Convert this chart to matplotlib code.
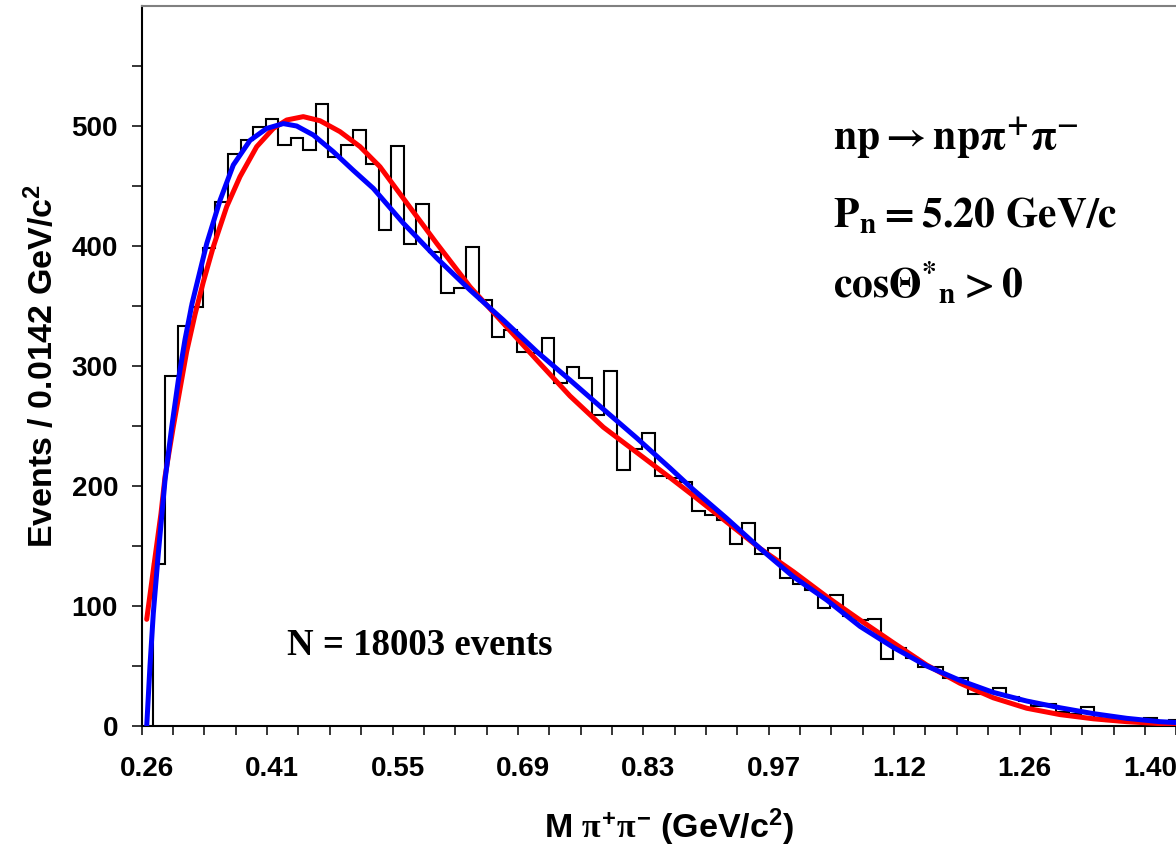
import matplotlib
matplotlib.use("Agg")
import matplotlib.pyplot as plt
import matplotlib.transforms as mtransforms
from matplotlib.ticker import FixedLocator, FixedFormatter, NullFormatter
import numpy as np

# ---------------- data ----------------
bin_lo = 0.2725          # GeV, lower edge of first bin
bin_w = 0.01426          # GeV, bin width
counts = [135, 292, 333, 349, 398, 437, 477, 488, 499, 506,
          484, 490, 480, 518, 474, 484, 497, 468, 413, 483,
          402, 435, 395, 361, 365, 399, 355, 324, 330, 312,
          311, 323, 286, 299, 290, 259, 296, 213, 231, 244,
          208, 207, 203, 179, 176, 172, 152, 169, 143, 148,
          123, 118, 113, 98, 109, 92, 88, 89, 56, 65,
          57, 49, 49, 40, 40, 27, 29, 32, 24, 21,
          17, 18, 12, 10, 16, 6, 4, 3, 3, 7,
          2, 5]

red_x = [0.2657, 0.2732, 0.2819, 0.2865, 0.2959, 0.3111, 0.3206, 0.3300,
         0.3414, 0.3566, 0.3717, 0.3907, 0.4096, 0.4248, 0.4436, 0.4626,
         0.4853, 0.5081, 0.5308, 0.5573, 0.5952, 0.6331, 0.6709, 0.7089,
         0.7467, 0.7846, 0.8225, 0.8603, 0.8868, 0.9248, 0.9626, 1.0005,
         1.0384, 1.0763, 1.1141, 1.1521, 1.1899, 1.2277, 1.2657, 1.3035,
         1.3414, 1.3793, 1.4172, 1.4456]
red_y = [88.9, 130, 177, 207.8, 249.4, 312, 343, 370,
         399.4, 432.8, 457.8, 482.8, 498, 505, 507.8, 504.4,
         495.3, 482.8, 466, 439.7, 402.2, 366, 335.6, 305,
         275, 249, 228, 207, 192, 170, 148, 128.6,
         107.8, 88.3, 69.4, 50.8, 35.6, 23.5, 14.8, 9.5,
         6.0, 3.6, 2.0, 1.2]

blue_x = [0.2657, 0.2694, 0.2732, 0.2789, 0.2865, 0.2941, 0.3016, 0.3092,
          0.3172, 0.3339, 0.3490, 0.3641, 0.3831, 0.4021, 0.4209, 0.4361,
          0.4550, 0.4777, 0.5005, 0.5232, 0.5573, 0.5952, 0.6331, 0.6709,
          0.7089, 0.7467, 0.7846, 0.8225, 0.8603, 0.8868, 0.9248, 0.9626,
          1.0005, 1.0384, 1.0763, 1.1141, 1.1521, 1.1899, 1.2277, 1.2657,
          1.3035, 1.3414, 1.3793, 1.4172, 1.4456]
blue_y = [0, 50, 94, 144, 205, 249, 288, 322,
          352, 402, 438, 467.5, 488, 498, 502, 500,
          492.5, 478.6, 463, 448, 419, 390, 363.3, 338.3,
          312, 288.3, 264, 240, 215, 197, 173, 148,
          124.4, 105, 83, 65.5, 50, 38, 28, 20.8,
          15.2, 10.3, 6.4, 3.6, 2.5]

x_major = [0.26, 0.4025, 0.545, 0.6875, 0.83, 0.9725, 1.115, 1.2575, 1.40]
x_labels = ["0.26", "0.41", "0.55", "0.69", "0.83", "0.97", "1.12", "1.26", "1.40"]
y_major = [0, 100, 200, 300, 400, 500]
y_labels = ["0", "100", "200", "300", "400", "500"]
y_minor = [50, 150, 250, 350, 450, 550]

# ---------------- style ----------------
plt.rcParams['font.family'] = ['Liberation Sans', 'DejaVu Sans']
plt.rcParams['font.weight'] = 'bold'
plt.rcParams['mathtext.fontset'] = 'custom'
plt.rcParams['mathtext.rm'] = 'Liberation Sans:bold'
plt.rcParams['mathtext.bf'] = 'Liberation Sans:bold'
plt.rcParams['mathtext.it'] = 'Liberation Serif:bold'
plt.rcParams['mathtext.sf'] = 'Liberation Sans:bold'

W, H, DPI = 1176, 850, 100
fig = plt.figure(figsize=(W / DPI, H / DPI), dpi=DPI)

px_per_gev = 880.0
x0_px, y0_px, ytop_px, xr_px = 141.7, 726.0, 6.0, 1200.0
ax = fig.add_axes([x0_px / W, (H - y0_px) / H, (xr_px - x0_px) / W, (y0_px - ytop_px) / H])
ax.set_xlim(0.26, 0.26 + (xr_px - x0_px) / px_per_gev)
ax.set_ylim(0, 600)

edges = bin_lo + bin_w * np.arange(len(counts) + 1)
ax.stairs(counts, edges, baseline=0, color='black', lw=1.5, zorder=2)
ax.plot(red_x, red_y, color='#ff0000', lw=3.6, solid_capstyle='round', zorder=3)
ax.plot(blue_x, blue_y, color='#0000ff', lw=3.6, solid_capstyle='round', zorder=4)

for s in ['left', 'bottom']:
    ax.spines[s].set_color('black')
    ax.spines[s].set_linewidth(1.5)
ax.spines['top'].set_color('#808080')
ax.spines['top'].set_linewidth(1.5)
ax.spines['right'].set_visible(False)

minor_x = [0.26 + 0.035625 * k for k in range(0, 34)]
ax.xaxis.set_major_locator(FixedLocator(x_major))
ax.xaxis.set_major_formatter(FixedFormatter(x_labels))
ax.xaxis.set_minor_locator(FixedLocator(minor_x))
ax.xaxis.set_minor_formatter(NullFormatter())
ax.yaxis.set_major_locator(FixedLocator(y_major))
ax.yaxis.set_major_formatter(FixedFormatter(y_labels))
ax.yaxis.set_minor_locator(FixedLocator(y_minor))
ax.yaxis.set_minor_formatter(NullFormatter())

ax.tick_params(axis='x', which='both', direction='out', length=6.5, width=1.1,
               color='black', labelsize=20, pad=15)
ax.tick_params(axis='y', which='both', direction='out', length=7, width=1.1,
               color='black', labelsize=20, pad=10)
for lab in ax.get_xticklabels() + ax.get_yticklabels():
    lab.set_fontweight('bold')
off = mtransforms.ScaledTranslation(5 / DPI, 0, fig.dpi_scale_trans)
for lab in ax.get_xticklabels():
    lab.set_transform(lab.get_transform() + off)

# axis titles
fig.text(669 / W, 1 - 838 / H, r"$\mathrm{M}\ \pi^{+}\pi^{-}\ \mathrm{(GeV/c^{2})}$",
         ha='center', va='baseline', fontsize=24.5)
fig.text(42 / W, 1 - 366 / H, r"$\mathrm{Events\ /\ 0.0142\ GeV/c^{2}}$",
         ha='center', va='center', rotation=90, fontsize=24.5)

# annotations
fig.text(287 / W, 1 - 655 / H, "N = 18003 events", family='Liberation Serif',
         weight='bold', fontsize=26.5, ha='left', va='baseline')
fig.text(832.7 / W, 1 - 150 / H, r"$\mathbf{np \rightarrow np\pi^{+}\pi^{-}}$",
         math_fontfamily='stix', fontsize=30, ha='left', va='baseline')
fig.text(832.7 / W, 1 - 226.7 / H, r"$\mathbf{P_{n} = 5.20\ GeV/c}$",
         math_fontfamily='stix', fontsize=30, ha='left', va='baseline')
fig.text(832.7 / W, 1 - 296.7 / H, r"$\mathbf{cos\Theta^{*}{}_{n} > 0}$",
         math_fontfamily='stix', fontsize=30, ha='left', va='baseline')

fig.savefig('out.png', dpi=DPI)
